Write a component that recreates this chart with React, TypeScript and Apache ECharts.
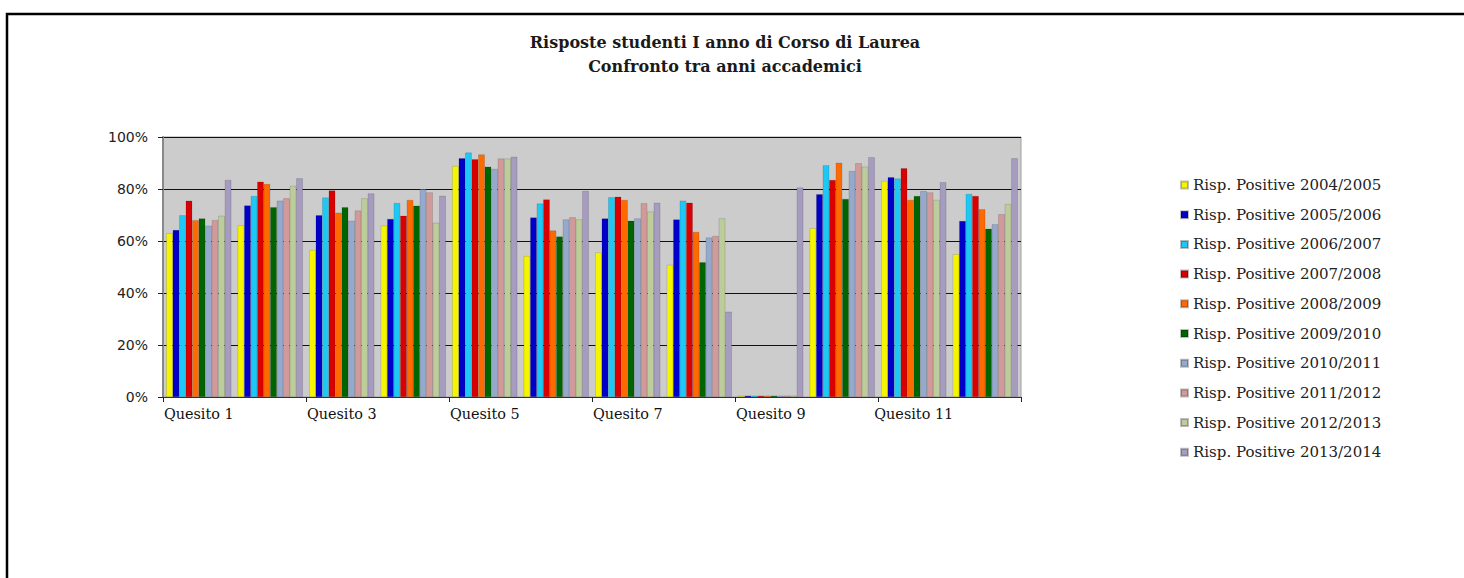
import React, { useEffect, useRef } from "react";
import * as echarts from "echarts";

const categories = ["Quesito 1","Quesito 2","Quesito 3","Quesito 4","Quesito 5","Quesito 6","Quesito 7","Quesito 8","Quesito 9","Quesito 10","Quesito 11","Quesito 12"];

const seriesNames = [
  "Risp. Positive 2004/2005",
  "Risp. Positive 2005/2006",
  "Risp. Positive 2006/2007",
  "Risp. Positive 2007/2008",
  "Risp. Positive 2008/2009",
  "Risp. Positive 2009/2010",
  "Risp. Positive 2010/2011",
  "Risp. Positive 2011/2012",
  "Risp. Positive 2012/2013",
  "Risp. Positive 2013/2014",
];

const seriesColors = ["#f5f500","#0000c8","#1ec8f5","#d80000","#ff6a00","#006400","#94a9cc","#d09a9a","#bccc9a","#a59cbf"];

const v2004 = [63, 66, 56.5, 65.9, 88.8, 54.2, 55.6, 50.8, 0.5, 64.9, 83.1, 54.9];
const v2005 = [64.2, 73.7, 69.9, 68.5, 91.8, 69, 68.7, 68.3, 0.5, 78, 84.5, 67.7];
const v2006 = [69.9, 77.3, 76.7, 74.6, 94, 74.4, 76.8, 75.5, 0.5, 89.1, 84, 78.1];
const v2007 = [75.5, 82.8, 79.4, 69.7, 91.4, 76, 77, 74.7, 0.5, 83.5, 88, 77.3];
const v2008 = [68, 81.9, 70.9, 75.8, 93.3, 64, 75.8, 63.5, 0.5, 90.1, 75.8, 72.2];
const v2009 = [68.7, 73, 73, 73.6, 88.6, 61.7, 67.8, 51.8, 0.5, 76.2, 77.3, 64.7];
const v2010 = [65.9, 75.5, 67.8, 79.9, 87.7, 68.3, 68.7, 61.3, 0.5, 86.9, 79.2, 66.4];
const v2011 = [68, 76.4, 71.7, 78.7, 91.7, 69.1, 74.5, 61.9, 0.5, 89.9, 78.7, 70.3];
const v2012 = [69.7, 81.2, 76.4, 67, 91.7, 68.3, 71.3, 68.7, 0.5, 88.6, 75.8, 74.2];
const v2013 = [83.5, 84.1, 78.3, 77.4, 92.4, 79.2, 74.7, 32.8, 80.6, 92.2, 82.6, 91.8];

const seriesValues = [v2004, v2005, v2006, v2007, v2008, v2009, v2010, v2011, v2012, v2013];

const yTicks = [0, 20, 40, 60, 80, 100];

const serif = "DejaVu Serif";

export default function App() {
  const ref = useRef<HTMLDivElement>(null);
  useEffect(() => {
    if (!ref.current) return;
    const chart = echarts.init(ref.current, undefined, { renderer: "svg" });
    chart.setOption({
      animation: false,
      backgroundColor: "#ffffff",
      title: {
        text: "Risposte studenti I anno di Corso di Laurea\nConfronto tra anni accademici",
        left: 725,
        textAlign: "center",
        top: 30,
        padding: 0,
        textStyle: { fontFamily: serif, fontSize: 16, fontWeight: "bold", color: "#1a1a1a", lineHeight: 24 },
      },
      legend: {
        orient: "vertical",
        left: 1180,
        top: 177,
        padding: 0,
        itemWidth: 7,
        itemHeight: 7,
        itemGap: 13.7,
        icon: "rect",
        data: seriesNames,
        textStyle: { fontFamily: serif, fontSize: 15, color: "#222", lineHeight: 16 },
      },
      grid: {
        left: 163,
        top: 137,
        width: 858,
        height: 260,
        show: true,
        backgroundColor: "#cccccc",
        borderColor: "#a0a0a0",
        borderWidth: 1,
      },
      xAxis: {
        type: "category",
        data: categories,
        axisLine: { show: true, lineStyle: { color: "#333", width: 1 } },
        axisTick: { show: true, length: 5, lineStyle: { color: "#222" } },
        axisLabel: { interval: 1, fontFamily: serif, fontSize: 14.4, color: "#111", margin: 10 },
      },
      yAxis: {
        type: "value",
        min: 0,
        max: 100,
        interval: 20,
        axisLine: { show: true, lineStyle: { color: "#888", width: 2 } },
        axisTick: { show: true, length: 5, lineStyle: { color: "#222" } },
        axisLabel: {
          fontFamily: "DejaVu Sans",
          fontSize: 14,
          color: "#222",
          margin: 15,
          formatter: (v: number) => (yTicks.includes(v) ? v + "%" : ""),
        },
        splitLine: { show: true, lineStyle: { color: "#111", width: 1.2 } },
      },
      graphic: [
        {
          type: "rect",
          shape: { x: 7, y: 14, width: 2000, height: 1000 },
          style: { fill: "none", stroke: "#000", lineWidth: 2.5 },
          silent: true,
        },
      ],
      series: seriesNames.map((name, i) => ({
        name,
        type: "bar",
        data: seriesValues[i],
        barGap: "0%",
        barCategoryGap: "9%",
        itemStyle: { color: seriesColors[i], borderColor: "rgba(0,0,0,0.25)", borderWidth: 0.5 },
      })),
    });
    return () => chart.dispose();
  }, []);
  return (
    <div
      ref={ref}
      style={{ position: "fixed", left: 0, top: 0, width: 1464, height: 578 }}
    />
  );
}
